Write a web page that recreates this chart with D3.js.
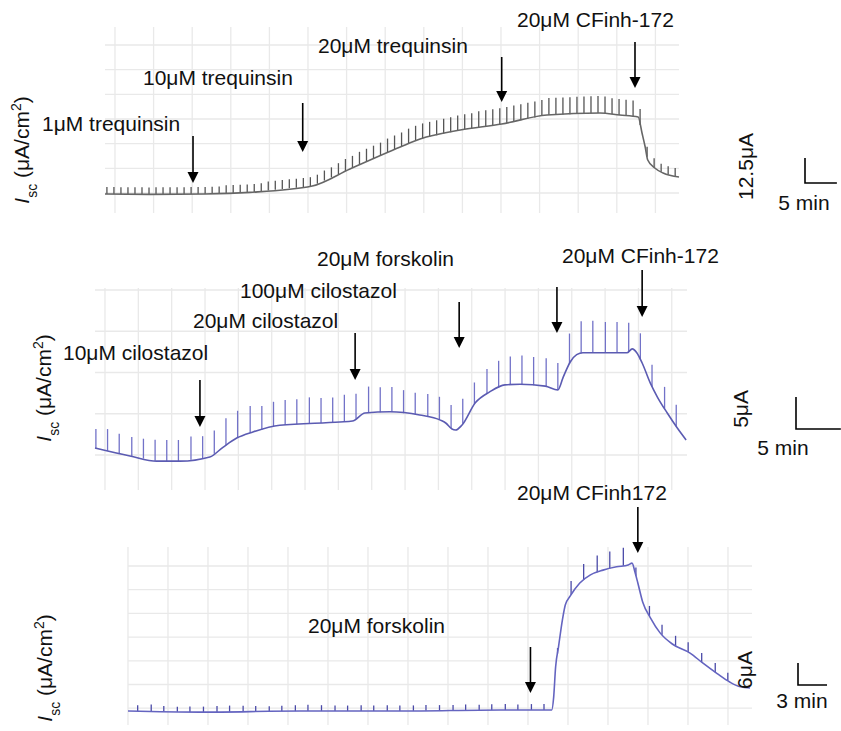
<!DOCTYPE html>
<html>
<head>
<meta charset="utf-8">
<script src="https://cdn.jsdelivr.net/npm/d3@7"></script>
<style>
  body { margin: 0; background: #fff; }
  svg { display: block; font-family: "Liberation Sans", Arial, sans-serif; }
</style>
</head>
<body>
<svg id="chart" width="841" height="731"></svg>
<script>
// ---- panel 1 : trequinsin (time in min, Isc in uA/cm2) ----
var p1Time    = [0, 7.1, 15.7, 22.7, 32.5, 38.4, 46.3, 49.4, 55.7, 62.2, 69.3, 77.6, 80.7, 83.6, 84.2, 84.7, 85.1, 86.2, 87.5, 90];
var p1Current = [9.5, 9.3, 9.5, 10.3, 13.5, 22, 33, 37, 41.5, 44.5, 49, 50, 49, 48, 40, 33, 26.5, 22.5, 20, 18];
var p1PulseTime = [0.3, 1.4, 2.5, 3.6, 4.7, 5.8, 6.9, 8.0, 9.1, 10.2, 11.3, 12.4, 13.5, 14.6, 15.7, 16.8, 17.9, 19.0, 20.1, 21.2,
  22.3, 23.4, 24.5, 25.6, 26.7, 27.8, 28.9, 30.0, 31.1, 32.2, 33.3, 34.4, 35.5, 36.6, 37.7, 38.8, 39.9, 41.0, 42.1, 43.2,
  44.3, 45.4, 46.5, 47.6, 48.7, 49.8, 50.9, 52.0, 53.1, 54.2, 55.3, 56.4, 57.5, 58.6, 59.7, 60.8, 61.9, 63.0, 64.1, 65.2,
  66.3, 67.4, 68.5, 69.6, 70.7, 71.8, 72.9, 74.0, 75.1, 76.2, 77.3, 78.4, 79.5, 80.6, 81.7, 82.8, 83.9, 85.0, 86.1, 87.2, 88.3, 89.4];
var p1PulseHeight = [3.5, 3.5, 3.5, 3.5, 3.5, 3.5, 3.5, 3.5, 3.5, 3.5, 3.5, 3.5, 3.5, 3.5, 3.5, 3.5, 3.5, 4, 4, 4,
  4, 4, 4, 4.5, 4.5, 4.5, 4.5, 4.5, 4.5, 4.5, 4.5, 5, 5, 5.5, 6, 6, 6.5, 6.5, 6.5, 6.5,
  7, 7, 7, 7.5, 7.5, 7.5, 7.5, 7.5, 7.5, 7.5, 7.5, 7.5, 7.5, 8, 8, 8, 8, 8, 8, 8,
  8, 8, 8, 8.5, 8.5, 8.5, 8.5, 8.5, 8.5, 8.5, 8.5, 8.5, 8, 8, 8, 8, 8, 5, 4.5, 4, 4, 4];
var p1Drugs = ["1μM trequinsin", "10μM trequinsin", "20μM trequinsin", "20μM CFinh-172"];
var p1DrugTime = [13.8, 31.0, 62.2, 83.1];
var p1ScaleBar = [5, 12.5]; // min, uA

// ---- panel 2 : cilostazol ----
var p2Time    = [0, 3.9, 6.9, 9.5, 12.8, 14.3, 15.8, 17.6, 20.6, 27.3, 28.7, 30.1, 32.9, 36.2, 38.5, 39.1, 39.8, 40.2, 40.9,
  42.4, 44.0, 45.7, 47.4, 50.2, 51.6, 52.2, 53.0, 53.7, 54.4, 59.3, 59.9, 60.4, 61.0, 61.9, 62.7, 63.8, 64.9, 65.9];
var p2Current = [6.55, 5.3, 4.5, 4.5, 5.15, 6.7, 8.1, 9.05, 10.1, 10.6, 10.75, 12.0, 12.2, 11.7, 10.9, 10.45, 9.5, 9.35, 10.1,
  13.6, 15.3, 16.4, 16.5, 16.2, 15.6, 17.6, 20.0, 21.1, 21.4, 21.4, 22.0, 21.4, 19.8, 16.7, 14.5, 12.0, 9.7, 7.8];
var p2PulseTime = [0.1, 1.4, 2.7, 4.1, 5.4, 6.7, 8.0, 9.3, 10.7, 12.0, 13.3, 14.6, 15.9, 17.3, 18.6, 19.9, 21.2, 22.5, 23.9, 25.2,
  26.5, 27.8, 29.1, 30.5, 31.8, 33.1, 34.4, 35.7, 37.1, 38.4, 39.7, 41.0, 42.3, 43.7, 45.0, 46.3, 47.6, 48.9, 50.3, 51.6,
  52.9, 54.2, 55.5, 56.9, 58.2, 59.5, 60.8, 62.1, 63.5, 64.8];
var p2PulseHeight = [3.0, 3.4, 3.1, 3.0, 3.1, 3.3, 3.3, 3.3, 3.6, 3.4, 3.6, 4.2, 4.2, 4.2, 3.7, 3.9, 3.9, 3.9, 4.1, 3.9,
  3.9, 4.2, 3.9, 4.1, 3.9, 3.9, 3.6, 3.4, 3.6, 3.6, 3.6, 3.9, 3.4, 3.9, 4.2, 4.4, 4.5, 4.4, 4.4, 4.2,
  4.7, 5.0, 5.0, 4.8, 4.8, 4.5, 4.1, 3.4, 3.4, 3.4];
var p2Drugs = ["10μM cilostazol", "20μM cilostazol", "100μM cilostazol", "20μM forskolin", "20μM CFinh-172"];
var p2DrugTime = [11.7, 29.0, 40.6, 51.5, 61.0];
var p2ScaleBar = [5, 5];

// ---- panel 3 : forskolin ----
var p3Time    = [0, 7.4, 17.8, 28.1, 38.5, 43.8, 44.0, 44.2, 44.5, 44.9, 45.2, 45.7, 46.7, 47.8, 49.1, 50.5, 51.7, 52.1,
  52.4, 52.7, 53.2, 54.0, 55.0, 56.3, 58.1, 59.4, 60.9, 62.2, 63.3, 64.3];
var p3Current = [3.8, 3.5, 3.8, 3.8, 4.1, 4.1, 7.6, 15.8, 21.3, 28.6, 32.7, 35.1, 38.7, 40.9, 42.2, 43.1, 43.6, 44.1,
  41.7, 38.7, 33.5, 29.2, 25.1, 22.0, 19.6, 16.9, 14.0, 11.7, 10.4, 10.1];
var p3PulseTime = [1.0, 2.4, 3.7, 5.1, 6.4, 7.8, 9.2, 10.5, 11.9, 13.2, 14.6, 15.9, 17.3, 18.6, 20.0, 21.4, 22.7, 24.1, 25.4, 26.8,
  28.1, 29.5, 30.8, 32.2, 33.6, 34.9, 36.3, 37.6, 39.0, 40.3, 41.7, 43.0, 44.4, 45.8, 47.1, 48.5, 49.8, 51.2, 52.5, 53.9,
  55.2, 56.6, 57.9, 59.3, 60.7, 62.0];
var p3PulseHeight = [1.6, 1.9, 1.5, 1.4, 1.5, 1.5, 1.6, 1.7, 1.6, 1.5, 1.4, 1.5, 1.6, 1.7, 1.6, 1.5, 1.5, 1.6, 1.5, 1.6,
  1.5, 1.5, 1.6, 1.5, 1.5, 1.6, 1.5, 1.6, 1.6, 1.5, 1.6, 1.6, 1.5, 3.8, 4.4, 4.6, 4.6, 4.9, 2.2, 2.7,
  2.7, 2.7, 2.7, 2.5, 2.5, 2.2];
var p3Drugs = ["20μM forskolin", "20μM CFinh172"];
var p3DrugTime = [41.6, 52.7];
var p3ScaleBar = [3, 6];

// ---- layout (pixels) ----
var panels = [
  { time: p1Time, current: p1Current, pulseTime: p1PulseTime, pulseHeight: p1PulseHeight,
    drugs: p1Drugs, drugTime: p1DrugTime, bar: p1ScaleBar,
    xDomain: [0, 90], yDomain: [0, 93],
    left: 105, right: 679, top: 27, bottom: 213,
    gridX: [115, 38.6, 15], gridY: [45, 24.67, 7],
    lineColor: "#666666", pulseColor: "#555555",
    labelPos: [[42, 131], [143, 85], [318, 53], [517, 27]],
    arrowY: [[136, 183], [103, 152], [57, 102], [42, 88]],
    yLabel: [29, 150], barPos: [805, 183], barLabelX: 753, timeLabel: [804, 210] },
  { time: p2Time, current: p2Current, pulseTime: p2PulseTime, pulseHeight: p2PulseHeight,
    drugs: p2Drugs, drugTime: p2DrugTime, bar: p2ScaleBar,
    xDomain: [0, 66], yDomain: [0, 31.5],
    left: 95, right: 687, top: 288, bottom: 490,
    gridX: [105, 33.34, 18], gridY: [290, 41.25, 5],
    lineColor: "#5b5bb2", pulseColor: "#7272c8",
    labelPos: [[63, 360], [193, 328], [240, 298], [317, 266], [562, 263]],
    arrowY: [[380, 427], [333, 380], [302, 348], [287, 333], [270, 317]],
    yLabel: [51, 388], barPos: [796, 429], barLabelX: 748, timeLabel: [783, 455] },
  { time: p3Time, current: p3Current, pulseTime: p3PulseTime, pulseHeight: p3PulseHeight,
    drugs: p3Drugs, drugTime: p3DrugTime, bar: p3ScaleBar,
    xDomain: [0, 64.5], yDomain: [0, 48.5],
    left: 128, right: 752, top: 547, bottom: 725,
    gridX: [128, 40, 16], gridY: [566, 23.7, 7],
    lineColor: "#6464c0", pulseColor: "#4a4aa8",
    labelPos: [[308, 633], [517, 500]],
    arrowY: [[647, 693], [507, 553]],
    yLabel: [52, 668], barPos: [798, 685], barLabelX: 752, timeLabel: [802, 708] }
];

var svg = d3.select("#chart");
svg.append("rect").attr("width", 841).attr("height", 731).attr("fill", "#fff");

// value of the trace at time t (for the base of each pulse)
function traceAt(ts, vs, t)
{
  var i = d3.bisectLeft(ts, t);
  if (i <= 0) return vs[0];
  if (i >= ts.length) return vs[vs.length - 1];
  var f = (t - ts[i - 1]) / (ts[i] - ts[i - 1]);
  return vs[i - 1] + f * (vs[i] - vs[i - 1]);
}

panels.forEach(function(p)
{
  var x = d3.scaleLinear().domain(p.xDomain).range([p.left, p.right]);
  var y = d3.scaleLinear().domain(p.yDomain).range([p.bottom, p.top]);
  var g = svg.append("g");

  // background grid of the recorder
  var grid = g.append("g").attr("stroke", "#e9e9e9").attr("stroke-width", 1.3);
  grid.selectAll(".gx").data(d3.range(p.gridX[2])).enter().append("line")
    .attr("x1", function(k) { return p.gridX[0] + k * p.gridX[1]; })
    .attr("x2", function(k) { return p.gridX[0] + k * p.gridX[1]; })
    .attr("y1", p.top).attr("y2", p.bottom);
  grid.selectAll(".gy").data(d3.range(p.gridY[2])).enter().append("line")
    .attr("y1", function(k) { return p.gridY[0] + k * p.gridY[1]; })
    .attr("y2", function(k) { return p.gridY[0] + k * p.gridY[1]; })
    .attr("x1", p.left).attr("x2", p.right);

  // pulses
  var pulses = p.pulseTime.map(function(t, i)
  {
    var base = traceAt(p.time, p.current, t);
    return { t: t, base: base, top: base + p.pulseHeight[i] };
  });
  g.selectAll(".pulse").data(pulses).enter().append("line")
    .attr("x1", function(d) { return x(d.t); }).attr("x2", function(d) { return x(d.t); })
    .attr("y1", function(d) { return y(d.base); }).attr("y2", function(d) { return y(d.top); })
    .attr("stroke", p.pulseColor).attr("stroke-width", 1.3);

  // trace
  var pts = p.time.map(function(t, i) { return [t, p.current[i]]; });
  var line = d3.line().x(function(d) { return x(d[0]); }).y(function(d) { return y(d[1]); })
    .curve(d3.curveMonotoneX);
  g.append("path").datum(pts).attr("d", line)
    .attr("fill", "none").attr("stroke", p.lineColor).attr("stroke-width", 1.6);

  // drug additions
  p.drugs.forEach(function(name, i)
  {
    var ax = x(p.drugTime[i]);
    var y0 = p.arrowY[i][0], y1 = p.arrowY[i][1];
    g.append("line").attr("x1", ax).attr("x2", ax).attr("y1", y0).attr("y2", y1 - 9)
      .attr("stroke", "#000").attr("stroke-width", 1.6);
    g.append("path").attr("d", "M" + (ax - 5.5) + "," + (y1 - 11) + "L" + (ax + 5.5) + "," + (y1 - 11) + "L" + ax + "," + y1 + "Z")
      .attr("fill", "#000");
    g.append("text").attr("x", p.labelPos[i][0]).attr("y", p.labelPos[i][1])
      .attr("font-size", 21).attr("fill", "#111").text(name);
  });

  // y label
  var yl = g.append("text").attr("font-size", 21).attr("fill", "#111").attr("text-anchor", "middle")
    .attr("transform", "translate(" + p.yLabel[0] + "," + p.yLabel[1] + ") rotate(-90)");
  yl.append("tspan").style("font-style", "italic").text("I");
  yl.append("tspan").attr("baseline-shift", "sub").attr("font-size", 14).text("sc");
  yl.append("tspan").text(" (μA/cm");
  yl.append("tspan").attr("baseline-shift", "super").attr("font-size", 14).text("2");
  yl.append("tspan").text(")");

  // scale bar
  var bx = p.barPos[0], by = p.barPos[1];
  var bw = x(p.bar[0]) - x(0), bh = y(0) - y(p.bar[1]);
  g.append("path").attr("d", "M" + bx + "," + (by - bh) + "L" + bx + "," + by + "L" + (bx + bw) + "," + by)
    .attr("fill", "none").attr("stroke", "#000").attr("stroke-width", 1.6);
  g.append("text").attr("font-size", 21).attr("fill", "#111").attr("text-anchor", "middle")
    .attr("transform", "translate(" + p.barLabelX + "," + (by - bh / 2 - 4) + ") rotate(-90)")
    .text(p.bar[1] + "μA");
  g.append("text").attr("font-size", 21).attr("fill", "#111").attr("text-anchor", "middle")
    .attr("x", p.timeLabel[0]).attr("y", p.timeLabel[1]).text(p.bar[0] + " min");
});
</script>
</body>
</html>
